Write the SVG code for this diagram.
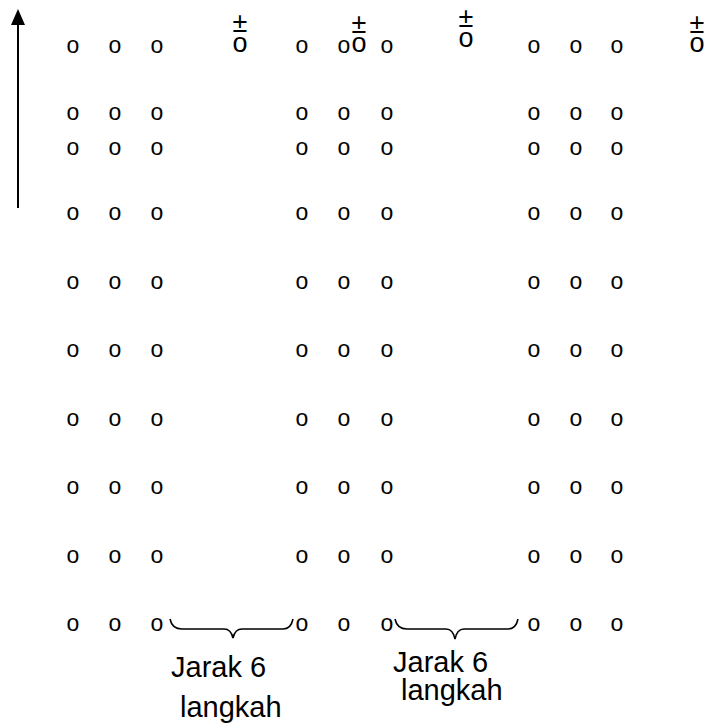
<svg xmlns="http://www.w3.org/2000/svg" width="705" height="724" viewBox="0 0 705 724">
<style>
text{font-family:"Liberation Sans",Arial,sans-serif;fill:#000}
.o{font-size:23px;text-anchor:middle}
.pm{font-size:27px;text-anchor:middle}
.lbl{font-size:29px}
.br{fill:none;stroke:#000;stroke-width:1.6}
</style>
<defs>
<g id="row">
<text class="o" x="73">o</text><text class="o" x="115">o</text><text class="o" x="157">o</text>
<text class="o" x="302">o</text><text class="o" x="344">o</text><text class="o" x="387">o</text>
<text class="o" x="534">o</text><text class="o" x="576">o</text><text class="o" x="617">o</text>
</g>
</defs>
<g id="connectors">
<line x1="18" y1="208" x2="18" y2="22" stroke="#000" stroke-width="2"/>
<polygon points="18,9 11,25 25,25" fill="#000"/>
<path class="br" d="M170,619 Q172,629 182,629 L224,629 Q231,629 233,638 Q235,629 242,629 L283,629 Q291,629 293,619"/>
<path class="br" d="M395,619 Q397,629 407,629 L446,629 Q453,629 455,639 Q457,629 464,629 L508,629 Q516,629 518,619"/>
</g>
<g id="row1">
<use href="#row" y="53"/>
</g>
<g id="markers">
<text class="pm" x="240" y="32">±<tspan x="240" y="52">o</tspan></text>
<text class="pm" x="359" y="33">±<tspan x="359" y="52">o</tspan></text>
<text class="pm" x="466" y="27">±<tspan x="466" y="47">o</tspan></text>
<text class="pm" x="697" y="33">±<tspan x="697" y="52">o</tspan></text>
</g>
<g id="rows">
<use href="#row" y="120"/>
<use href="#row" y="155"/>
<use href="#row" y="220"/>
<use href="#row" y="289"/>
<use href="#row" y="357"/>
<use href="#row" y="426"/>
<use href="#row" y="494"/>
<use href="#row" y="563"/>
<use href="#row" y="631"/>
</g>
<g id="label1">
<text class="lbl" x="171" y="677">Jarak 6</text>
<text class="lbl" x="180" y="717">langkah</text>
</g>
<g id="label2">
<text class="lbl" x="393" y="672">Jarak 6</text>
<text class="lbl" x="401" y="700">langkah</text>
</g>
</svg>
